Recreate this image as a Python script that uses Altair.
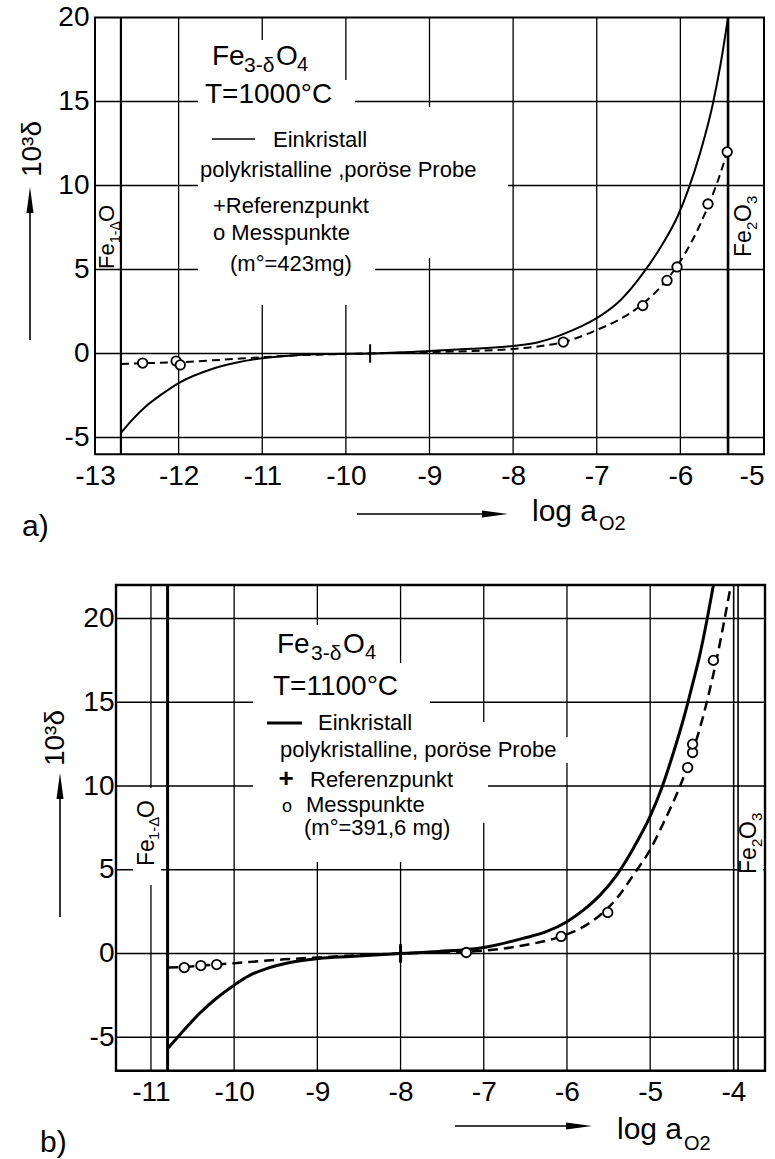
import altair as alt
import pandas as pd

FONT = "Liberation Sans"
W, H = 775, 1159

# ---------------- a) T = 1000 °C ----------------
A_XDOM = [-13, -5]
A_YDOM = [-6, 20]
A_XTICKS = [-13, -12, -11, -10, -9, -8, -7, -6, -5]
A_YTICKS = [-5, 0, 5, 10, 15, 20]
A_XGRID = [-12, -11, -10, -9, -8, -7, -6]
A_YGRID = [-5, 0, 5, 10, 15]
A_FE1 = -12.69          # Fe(1-Δ)O phase boundary
A_FE2O3 = -5.43         # Fe2O3 phase boundary
A_REF_X, A_REF_Y = -9.71, 0.0

# single crystal (Einkristall)
A_SINGLE_X = [-12.69, -12.55, -12.40, -12.2, -12.0, -11.6, -11.33, -11.0, -10.6, -10.2,
              -9.71, -9.0, -8.5, -8.0, -7.71, -7.44, -7.2, -7.0, -6.72, -6.45,
              -6.24, -6.03, -5.91, -5.76, -5.61, -5.52, -5.43]
A_SINGLE_Y = [-4.73, -3.92, -3.18, -2.42, -1.76, -0.92, -0.57, -0.28, -0.10, -0.03,
              0.0, 0.15, 0.28, 0.45, 0.66, 1.08, 1.58, 2.10, 3.15, 4.75,
              6.30, 8.20, 9.70, 12.0, 14.9, 17.2, 20.0]
# polycrystalline porous sample
A_POLY_X = [-12.69, -12.43, -12.0, -11.5, -11.0, -10.6, -10.0, -9.0, -8.0, -7.7,
            -7.40, -7.0, -6.72, -6.45, -6.16, -6.04, -5.85, -5.67, -5.55, -5.44]
A_POLY_Y = [-0.63, -0.58, -0.52, -0.38, -0.22, -0.11, -0.03, 0.08, 0.27, 0.42,
            0.68, 1.40, 2.05, 2.95, 4.40, 5.20, 6.80, 8.75, 10.3, 12.0]
A_MEAS_X = [-12.43, -12.03, -11.98, -7.40, -6.45, -6.16, -6.04, -5.67, -5.44]
A_MEAS_Y = [-0.57, -0.45, -0.68, 0.68, 2.85, 4.35, 5.15, 8.9, 12.0]

# ---------------- b) T = 1100 °C ----------------
B_XDOM = [-11.42, -3.62]
B_YDOM = [-7, 22]
B_XTICKS = [-11, -10, -9, -8, -7, -6, -5, -4]
B_YTICKS = [-5, 0, 5, 10, 15, 20]
B_XGRID = [-11, -10, -9, -8, -7, -6, -5]
B_YGRID = [-5, 0, 5, 10, 15, 20]
B_FE1 = -10.80
B_FE2O3 = -3.97
B_REF_X, B_REF_Y = -8.0, 0.0

B_SINGLE_X = [-10.79, -10.61, -10.42, -10.22, -10.01, -9.82, -9.61, -9.33, -8.98, -8.61,
              -8.0, -7.54, -7.0, -6.53, -6.25, -6.0, -5.8, -5.6, -5.4, -5.2,
              -5.0, -4.86, -4.72, -4.6, -4.5, -4.4, -4.31, -4.24]
B_SINGLE_Y = [-5.63, -4.61, -3.60, -2.70, -1.92, -1.32, -0.90, -0.54, -0.30, -0.18,
              0.0, 0.12, 0.36, 0.90, 1.30, 1.90, 2.60, 3.50, 4.70, 6.30,
              8.20, 9.90, 12.0, 14.0, 15.9, 17.9, 20.1, 22.0]
B_POLY_X = [-10.79, -10.6, -10.4, -10.21, -9.8, -9.4, -9.0, -8.5, -8.0, -7.5,
            -7.0, -6.53, -6.07, -5.8, -5.6, -5.4, -5.2, -5.0, -4.84, -4.64,
            -4.5, -4.4, -4.31, -4.2, -4.12, -4.03]
B_POLY_Y = [-0.84, -0.80, -0.72, -0.66, -0.50, -0.35, -0.24, -0.10, 0.0, 0.07,
            0.17, 0.48, 1.02, 1.60, 2.30, 3.30, 4.70, 6.20, 7.80, 10.0,
            11.9, 13.5, 15.2, 17.6, 19.6, 22.0]
B_MEAS_X = [-10.60, -10.40, -10.21, -7.21, -6.07, -5.51, -4.55, -4.49, -4.49, -4.24]
B_MEAS_Y = [-0.84, -0.72, -0.66, 0.06, 1.02, 2.45, 11.1, 12.0, 12.5, 17.5]

BLANK = alt.Data(values=[{"k": 0}])


def txt(s, x, y, size, angle=0, align="left", baseline="alphabetic", weight="normal"):
    return alt.Chart(BLANK).mark_text(
        text=s, font=FONT, fontSize=size, angle=angle, align=align,
        baseline=baseline, fontWeight=weight, color="black"
    ).encode(x=alt.value(x), y=alt.value(y))


def hline(x1, x2, y, w=1.6):
    return alt.Chart(BLANK).mark_rule(color="black", strokeWidth=w).encode(
        x=alt.value(x1), x2=alt.value(x2), y=alt.value(y))


def vline(x, y1, y2, w=1.6):
    return alt.Chart(BLANK).mark_rule(color="black", strokeWidth=w).encode(
        x=alt.value(x), y=alt.value(y1), y2=alt.value(y2))


def head(x, y, path, length):
    return alt.Chart(BLANK).mark_point(
        shape=path, size=length * length, filled=True, color="black", opacity=1
    ).encode(x=alt.value(x), y=alt.value(y))


RIGHT = "M -1 -0.27 L 1 0 L -1 0.27 Z"
UP = "M -0.27 1 L 0 -1 L 0.27 1 Z"


def h_arrow(x1, tip, y):
    return [hline(x1, tip - 20, y), head(tip - 13, y, RIGHT, 26)]


def v_arrow(x, y1, tip):
    return [vline(x, y1, tip + 20), head(x, tip + 13, UP, 26)]


def mask(x1, x2, y1, y2):
    return alt.Chart(BLANK).mark_rect(color="white", opacity=1).encode(
        x=alt.value(x1), x2=alt.value(x2), y=alt.value(y1), y2=alt.value(y2))


def panel(p):
    xs = alt.Scale(domain=p["xdom"], range=p["xrange"], nice=False, zero=False)
    ys = alt.Scale(domain=p["ydom"], range=p["yrange"], nice=False, zero=False)
    xax = alt.Axis(orient="bottom", offset=p["xaxis_y"] - H, values=p["xticks"],
                   grid=False, ticks=False, tickSize=0, domain=False, title=None,
                   labelFont=FONT, labelFontSize=28, labelColor="black",
                   labelPadding=p["xpad"], labelFlush=False, labelOverlap=False,
                   labelAlign=p["xalign"],
                   labelExpr="'' + datum.value")
    yax = alt.Axis(orient="left", offset=-p["yaxis_x"], values=p["yticks"],
                   grid=False, ticks=False, tickSize=0, domain=False, title=None,
                   labelFont=FONT, labelFontSize=28, labelColor="black",
                   labelPadding=p["ypad"], labelFlush=False, labelOverlap=False,
                   labelExpr="'' + datum.value")

    def X(f):
        return alt.X(f, type="quantitative", scale=xs, axis=xax)

    def Y(f):
        return alt.Y(f, type="quantitative", scale=ys, axis=yax)

    x0, x1 = p["xdom"]
    y0, y1 = p["ydom"]
    vgrid = pd.DataFrame({"g": p["xgrid"], "a": y0, "b": y1})
    hgrid = pd.DataFrame({"g": p["ygrid"], "a": x0, "b": x1})
    frame = pd.DataFrame({"x0": [x0], "x1": [x1], "y0": [y0], "y1": [y1]})
    bounds = pd.DataFrame({"g": [p["fe1"]], "a": y0, "b": y1})
    fe2o3 = pd.DataFrame({"g": [p["fe2o3"]], "a": y0, "b": y1})
    single = pd.DataFrame({"x": p["single_x"], "y": p["single_y"]})
    poly = pd.DataFrame({"x": p["poly_x"], "y": p["poly_y"]})
    meas = pd.DataFrame({"x": p["meas_x"], "y": p["meas_y"]})
    ref = pd.DataFrame({"x": [p["ref"][0]], "a": [p["ref"][1] - 0.55], "b": [p["ref"][1] + 0.55]})

    layers = [
        alt.Chart(vgrid).mark_rule(color="black", strokeWidth=1.3).encode(
            x=X("g"), y=Y("a"), y2="b"),
        alt.Chart(hgrid).mark_rule(color="black", strokeWidth=1.3).encode(
            y=Y("g"), x=X("a"), x2="b"),
    ]
    layers += [mask(*m) for m in p["masks"]]
    layers += [
        alt.Chart(bounds).mark_rule(color="black", strokeWidth=p["fe1_w"]).encode(
            x=X("g"), y=Y("a"), y2="b"),
    ]
    for off in p["fe2o3_offsets"]:
        layers.append(
            alt.Chart(fe2o3).mark_rule(color="black", strokeWidth=p["fe2o3_w"], xOffset=off).encode(
                x=X("g"), y=Y("a"), y2="b"))
    layers += [
        alt.Chart(frame).mark_rect(fillOpacity=0, stroke="black", strokeWidth=p["frame_w"]).encode(
            x=X("x0"), x2="x1", y=Y("y0"), y2="y1"),
        alt.Chart(single).mark_line(color="black", strokeWidth=p["single_w"],
                                    interpolate="monotone").encode(x=X("x"), y=Y("y")),
        alt.Chart(poly).mark_line(color="black", strokeWidth=p["poly_w"], strokeDash=p["dash"],
                                  interpolate="monotone").encode(x=X("x"), y=Y("y")),
        alt.Chart(ref).mark_rule(color="black", strokeWidth=p["ref_w"]).encode(
            x=X("x"), y=Y("a"), y2="b"),
        alt.Chart(meas).mark_point(shape="circle", filled=True, fill="white", stroke="black",
                                   strokeWidth=1.8, size=90, opacity=1).encode(x=X("x"), y=Y("y")),
    ]
    layers += p["annot"]
    return alt.layer(*layers)


A_ANNOT = [
    # formula and temperature
    txt("Fe", 212, 65, 28), txt("3-δ", 244, 72, 21), txt("O", 276, 65, 28), txt("4", 297, 71, 20),
    txt("T=1000°C", 205, 103, 28),
    hline(212, 255, 139, 1.6), txt("Einkristall", 273, 147, 22),
    txt("polykristalline ,poröse Probe", 200, 177, 22),
    txt("+Referenzpunkt", 213, 213, 22),
    txt("o  Messpunkte", 213, 240, 22),
    txt("(m°=423mg)", 230, 271, 22),
    # phase boundaries
    txt("Fe", 114, 269, 22, angle=270), txt("1-Δ", 120, 243, 14, angle=270), txt("O", 114, 222, 22, angle=270),
    txt("Fe", 751, 257, 23, angle=270), txt("2", 757, 230, 15, angle=270),
    txt("O", 751, 222, 23, angle=270), txt("3", 757, 204, 15, angle=270),
    # axis titles
    txt("10³δ", 33, 149, 28, angle=270, align="center", baseline="middle"),
    txt("log a", 532, 521, 30), txt("O2", 599, 530, 20),
    txt("a)", 22, 536, 30),
] + v_arrow(30, 340, 187) + h_arrow(357, 508, 514)

B_ANNOT = [
    txt("Fe", 277, 653, 28), txt("3-δ", 311, 660, 21), txt("O", 343, 653, 28), txt("4", 365, 659, 20),
    txt("T=1100°C", 273, 695, 28),
    hline(267, 302, 723, 3), txt("Einkristall", 318, 730, 22),
    txt("polykristalline, poröse Probe", 280, 757, 22),
    txt("+", 286, 787, 26, align="center", weight="bold"), txt("Referenzpunkt", 310, 787, 22),
    txt("o", 287, 812, 18, align="center"), txt("Messpunkte", 306, 812, 22),
    txt("(m°=391,6 mg)", 304, 835, 22),
    txt("Fe", 154, 866, 23, angle=270), txt("1-Δ", 159, 840, 15, angle=270), txt("O", 154, 818, 23, angle=270),
    txt("Fe", 756, 874, 23, angle=270), txt("2", 762, 847, 15, angle=270),
    txt("O", 756, 839, 23, angle=270), txt("3", 762, 821, 15, angle=270),
    txt("10³δ", 56, 738, 28, angle=270, align="center", baseline="middle"),
    txt("log a", 617, 1139, 30), txt("O2", 684, 1150, 20),
    txt("b)", 40, 1152, 30),
] + v_arrow(60, 917, 773) + h_arrow(455, 592, 1126)

PANEL_A = dict(
    xdom=A_XDOM, ydom=A_YDOM, xrange=[95, 764], yrange=[454.3, 17.5],
    xticks=A_XTICKS, yticks=A_YTICKS, xgrid=A_XGRID, ygrid=A_YGRID,
    xaxis_y=454, yaxis_x=95, xpad=8, ypad=6,
    # the last label sits on the right edge of the frame
    xalign={"condition": {"test": "datum.value == -5", "value": "right"}, "value": "center"},
    fe1=A_FE1, fe2o3=A_FE2O3, fe1_w=2.2, fe2o3_w=2.6, fe2o3_offsets=[0],
    ref=(A_REF_X, A_REF_Y), ref_w=2,
    single_x=A_SINGLE_X, single_y=A_SINGLE_Y, poly_x=A_POLY_X, poly_y=A_POLY_Y,
    meas_x=A_MEAS_X, meas_y=A_MEAS_Y,
    single_w=2, poly_w=2, dash=[8, 5], frame_w=2,
    masks=[(205, 312, 40, 80), (198, 355, 80, 108), (198, 440, 107, 258),
           (198, 508, 160, 190), (198, 375, 255, 305)],
    annot=A_ANNOT,
)

PANEL_B = dict(
    xdom=B_XDOM, ydom=B_YDOM, xrange=[116, 765], yrange=[1070.75, 585],
    xticks=B_XTICKS, yticks=B_YTICKS, xgrid=B_XGRID, ygrid=B_YGRID,
    xaxis_y=1070, yaxis_x=116, xpad=8, ypad=2, xalign="center",
    fe1=B_FE1, fe2o3=B_FE2O3, fe1_w=3, fe2o3_w=1.6, fe2o3_offsets=[-2.2, 2.2],
    ref=(B_REF_X, B_REF_Y), ref_w=3,
    single_x=B_SINGLE_X, single_y=B_SINGLE_Y, poly_x=B_POLY_X, poly_y=B_POLY_Y,
    meas_x=B_MEAS_X, meas_y=B_MEAS_Y,
    single_w=3, poly_w=2.5, dash=[10, 6], frame_w=2.4,
    masks=[(265, 392, 625, 665), (253, 430, 663, 740), (253, 488, 722, 823),
           (253, 590, 737, 763), (253, 410, 823, 862),
           (133, 161, 788, 885), (739, 763, 800, 890)],
    annot=B_ANNOT,
)

chart = alt.layer(panel(PANEL_A), panel(PANEL_B)).resolve_scale(
    x="independent", y="independent"
).properties(
    width=W, height=H, autosize=alt.AutoSizeParams(type="none"), padding=0,
    background="white",
).configure_view(strokeWidth=0)

chart.save("out.html", embed_options={"renderer": "svg", "actions": False})
